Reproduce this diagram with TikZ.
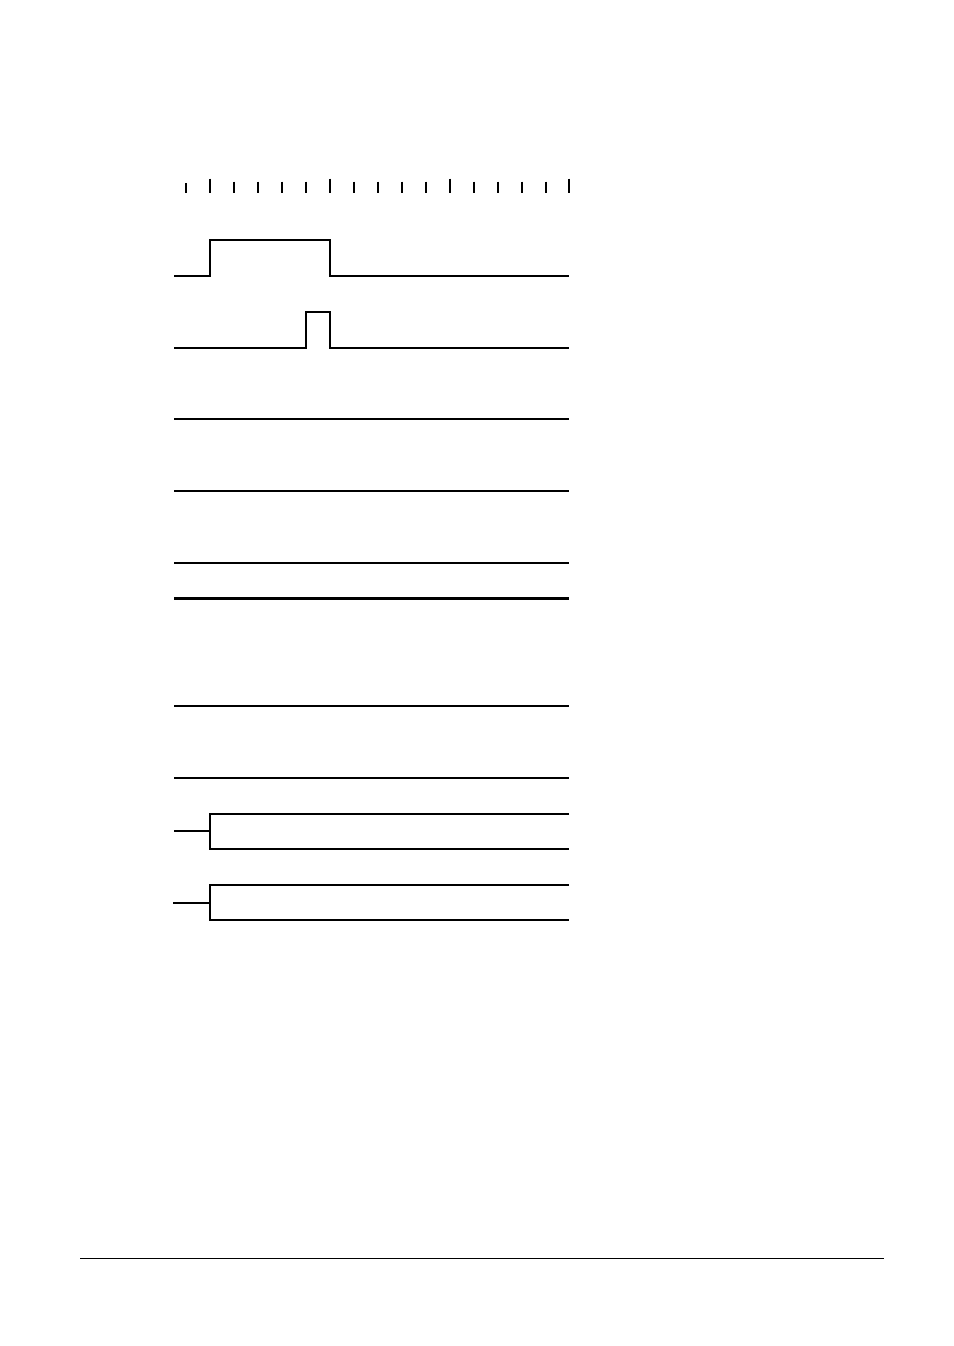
\documentclass[tikz,border=0pt]{standalone}
\usepackage{tikz}
\tikzset{sig/.style={line width=1.25pt}}
\begin{document}
\begin{tikzpicture}[x=0.625pt,y=-0.625pt]
\useasboundingbox (0,0) rectangle (954,1346);
% time scale
\draw[line width=1.8pt] (186,183) -- (186,192.5);
\foreach \t in {234,258,282,306,354,378,402,426,474,498,522,546}
  \draw[sig] (\t,181.5) -- (\t,192.5);
\foreach \t in {210,330,450,569}
  \draw[sig] (\t,178.5) -- (\t,193);
% pulses
\draw[sig] (174,275.5) -- (210,275.5) -- (210,239.5) -- (330,239.5) -- (330,275.5) -- (569,275.5);
\draw[sig] (174,348) -- (306,348) -- (306,312) -- (330,312) -- (330,348) -- (569,348);
% flat lines
\draw[sig] (174,419) -- (569,419);
\draw[sig] (174,491) -- (569,491);
\draw[sig] (174,563) -- (569,563);
\draw[line width=1.9pt] (174,598.3) -- (569,598.3);
\draw[sig] (174,706) -- (569,706);
\draw[sig] (174,778) -- (569,778);
% split lines
\draw[sig] (174,831) -- (210,831);
\draw[sig] (569,814) -- (210,814) -- (210,849) -- (569,849);
\draw[sig] (173,902.5) -- (210,902.5);
\draw[sig] (569,885) -- (210,885) -- (210,920) -- (569,920);
% footer rule
\draw[line width=0.9pt] (80,1258.3) -- (884,1258.3);
\end{tikzpicture}
\end{document}
